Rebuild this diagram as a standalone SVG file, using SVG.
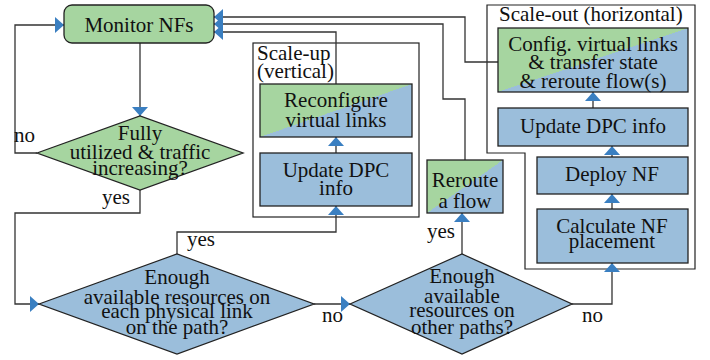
<svg xmlns="http://www.w3.org/2000/svg" width="710" height="360" viewBox="0 0 710 360" font-family="Liberation Serif, Times New Roman, serif">
<defs>
<linearGradient id="gb" x1="0" y1="0" x2="1" y2="1">
<stop offset="0.5" stop-color="#a6d5a0"/>
<stop offset="0.5" stop-color="#9bbedb"/>
</linearGradient>
<marker id="ah" markerUnits="userSpaceOnUse" viewBox="0 0 9 16" refX="9" refY="8" markerWidth="9" markerHeight="16" orient="auto">
<path d="M0,0 L9,8 L0,16 z" fill="#3a7fc1"/>
</marker>
</defs>
<g id="scaleup-group">
<rect x="253" y="43" width="166" height="174" fill="#fff" stroke="#222" stroke-width="1.2"/>
<text font-family="Times New Roman, Liberation Serif, serif" font-size="21" fill="#111" x="257" y="60">Scale-up</text>
<text font-family="Times New Roman, Liberation Serif, serif" font-size="21" fill="#111" x="257" y="78">(vertical)</text>
</g>
<g id="scaleout-group">
<path d="M487,5 H695 V269 H525 V153 H487 Z" fill="#fff" stroke="#222" stroke-width="1.2"/>
<text font-family="Times New Roman, Liberation Serif, serif" font-size="21" fill="#111" x="499" y="21">Scale-out (horizontal)</text>
</g>
<g id="connectors" fill="none" stroke="#333" stroke-width="1.3" marker-end="url(#ah)">
<path d="M140,43 V116"/>
<path d="M37,153 H15 V25 H64"/>
<path d="M140,190 V213 H15 V304 H39"/>
<path d="M177,254 V232 H336 V206"/>
<path d="M336,153 V137"/>
<path d="M336,84 V32 H214"/>
<path d="M314,304 H350"/>
<path d="M462,254 V213"/>
<path d="M465,160 V99 H443 V24 H214"/>
<path d="M572,304 H612 V263"/>
<path d="M612,209 V194"/>
<path d="M612,157 V146"/>
<path d="M593,108 V92"/>
<path d="M498,62 H465 V17 H214"/>
</g>
<g id="monitor">
<rect x="64" y="5" width="150" height="38" rx="8" fill="#a6d5a0" stroke="#222" stroke-width="1.3"/>
<text font-family="Times New Roman, Liberation Serif, serif" font-size="21" fill="#111" text-anchor="middle" x="139" y="32">Monitor NFs</text>
</g>
<g id="fully">
<path d="M37,153 L140,116 L243,153 L140,190 Z" fill="#a6d5a0" stroke="#222" stroke-width="1.3"/>
<text font-family="Times New Roman, Liberation Serif, serif" font-size="21" fill="#111" text-anchor="middle" x="140" y="140">Fully</text>
<text font-family="Times New Roman, Liberation Serif, serif" font-size="21" fill="#111" text-anchor="middle" x="140" y="159">utilized &amp; traffic</text>
<text font-family="Times New Roman, Liberation Serif, serif" font-size="21" fill="#111" text-anchor="middle" x="140" y="175">increasing?</text>
</g>
<g id="enough-link">
<path d="M39,304 L177,254 L314,304 L177,354 Z" fill="#9bbedb" stroke="#222" stroke-width="1.3"/>
<text font-family="Times New Roman, Liberation Serif, serif" font-size="21" fill="#111" text-anchor="middle" x="177" y="284">Enough</text>
<text font-family="Times New Roman, Liberation Serif, serif" font-size="21" fill="#111" text-anchor="middle" x="177" y="304">available resources on</text>
<text font-family="Times New Roman, Liberation Serif, serif" font-size="21" fill="#111" text-anchor="middle" x="177" y="318">each physical link</text>
<text font-family="Times New Roman, Liberation Serif, serif" font-size="21" fill="#111" text-anchor="middle" x="177" y="334">on the path?</text>
</g>
<g id="enough-paths">
<path d="M350,304 L462,254 L572,304 L462,354 Z" fill="#9bbedb" stroke="#222" stroke-width="1.3"/>
<text font-family="Times New Roman, Liberation Serif, serif" font-size="21" fill="#111" text-anchor="middle" x="462" y="283">Enough</text>
<text font-family="Times New Roman, Liberation Serif, serif" font-size="21" fill="#111" text-anchor="middle" x="462" y="303">available</text>
<text font-family="Times New Roman, Liberation Serif, serif" font-size="21" fill="#111" text-anchor="middle" x="462" y="317">resources on</text>
<text font-family="Times New Roman, Liberation Serif, serif" font-size="21" fill="#111" text-anchor="middle" x="462" y="334">other paths?</text>
</g>
<g id="reconfigure">
<rect x="260" y="84" width="152" height="53" fill="url(#gb)" stroke="#222" stroke-width="1.3"/>
<text font-family="Times New Roman, Liberation Serif, serif" font-size="21" fill="#111" text-anchor="middle" x="336" y="107">Reconfigure</text>
<text font-family="Times New Roman, Liberation Serif, serif" font-size="21" fill="#111" text-anchor="middle" x="336" y="127">virtual links</text>
</g>
<g id="update-up">
<rect x="260" y="153" width="152" height="53" fill="#9bbedb" stroke="#222" stroke-width="1.3"/>
<text font-family="Times New Roman, Liberation Serif, serif" font-size="21" fill="#111" text-anchor="middle" x="336" y="177">Update DPC</text>
<text font-family="Times New Roman, Liberation Serif, serif" font-size="21" fill="#111" text-anchor="middle" x="336" y="195">info</text>
</g>
<g id="reroute">
<rect x="427" y="160" width="76" height="53" fill="url(#gb)" stroke="#222" stroke-width="1.3"/>
<text font-family="Times New Roman, Liberation Serif, serif" font-size="21" fill="#111" text-anchor="middle" x="465" y="187">Reroute</text>
<text font-family="Times New Roman, Liberation Serif, serif" font-size="21" fill="#111" text-anchor="middle" x="465" y="208">a flow</text>
</g>
<g id="config">
<rect x="498" y="28" width="190" height="64" fill="url(#gb)" stroke="#222" stroke-width="1.3"/>
<text font-family="Times New Roman, Liberation Serif, serif" font-size="21" fill="#111" text-anchor="middle" x="593" y="51">Config. virtual links</text>
<text font-family="Times New Roman, Liberation Serif, serif" font-size="21" fill="#111" text-anchor="middle" x="593" y="69">&amp; transfer state</text>
<text font-family="Times New Roman, Liberation Serif, serif" font-size="21" fill="#111" text-anchor="middle" x="593" y="88">&amp; reroute flow(s)</text>
</g>
<g id="update-out">
<rect x="498" y="108" width="190" height="38" fill="#9bbedb" stroke="#222" stroke-width="1.3"/>
<text font-family="Times New Roman, Liberation Serif, serif" font-size="21" fill="#111" text-anchor="middle" x="593" y="133">Update DPC info</text>
</g>
<g id="deploy">
<rect x="537" y="157" width="151" height="37" fill="#9bbedb" stroke="#222" stroke-width="1.3"/>
<text font-family="Times New Roman, Liberation Serif, serif" font-size="21" fill="#111" text-anchor="middle" x="612" y="181">Deploy NF</text>
</g>
<g id="calculate">
<rect x="537" y="209" width="151" height="54" fill="#9bbedb" stroke="#222" stroke-width="1.3"/>
<text font-family="Times New Roman, Liberation Serif, serif" font-size="21" fill="#111" text-anchor="middle" x="612" y="233">Calculate NF</text>
<text font-family="Times New Roman, Liberation Serif, serif" font-size="21" fill="#111" text-anchor="middle" x="612" y="248">placement</text>
</g>
<g id="labels">
<text font-family="Times New Roman, Liberation Serif, serif" font-size="21" fill="#111" x="14" y="142">no</text>
<text font-family="Times New Roman, Liberation Serif, serif" font-size="21" fill="#111" x="102" y="204">yes</text>
<text font-family="Times New Roman, Liberation Serif, serif" font-size="21" fill="#111" x="187" y="246">yes</text>
<text font-family="Times New Roman, Liberation Serif, serif" font-size="21" fill="#111" x="322" y="322">no</text>
<text font-family="Times New Roman, Liberation Serif, serif" font-size="21" fill="#111" x="427" y="238">yes</text>
<text font-family="Times New Roman, Liberation Serif, serif" font-size="21" fill="#111" x="582" y="322">no</text>
</g>
</svg>
